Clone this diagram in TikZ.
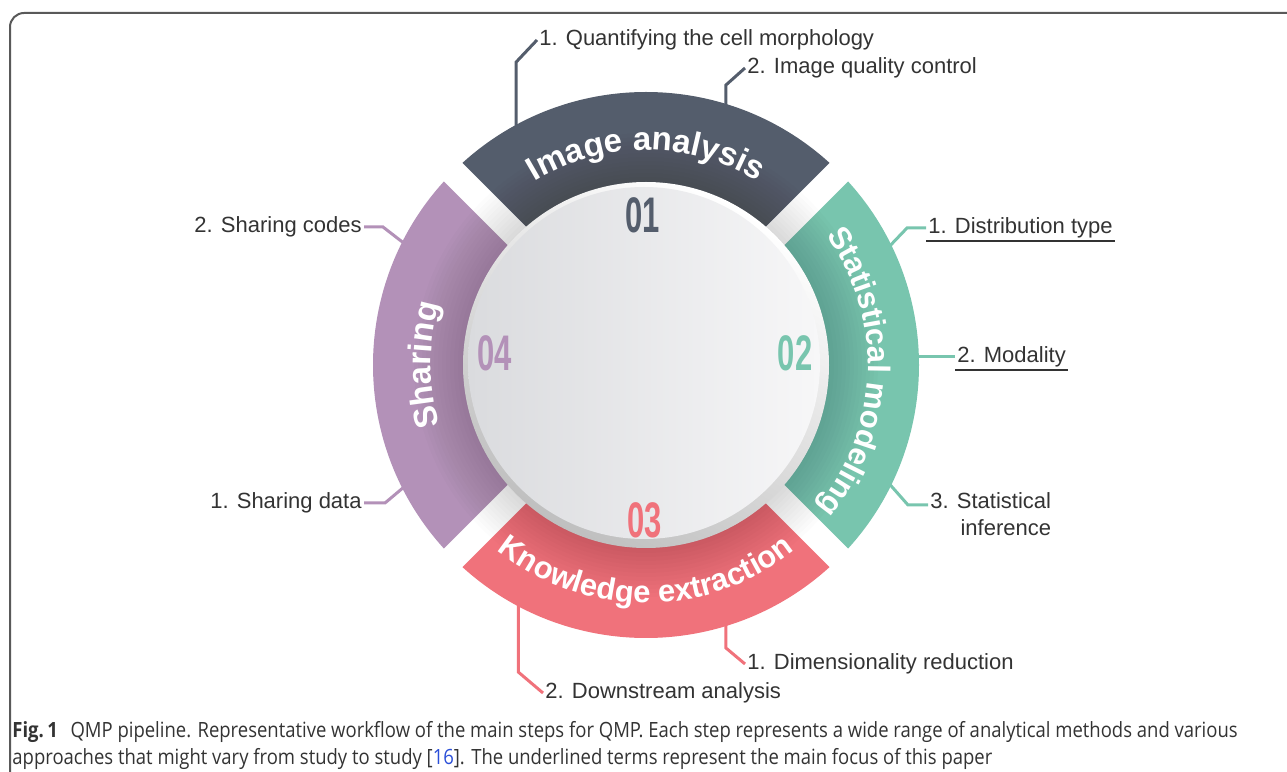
\documentclass[tikz,border=0pt]{standalone}
\usepackage{fontspec}
\setmainfont{Liberation Sans}
\newfontfamily\numfont[FakeStretch=0.62]{Liberation Sans}
\newfontfamily\capfont[FakeStretch=0.88]{Open Sans}
\usetikzlibrary{calc,decorations.text}

\definecolor{slate}{HTML}{545D6C}
\definecolor{mint}{HTML}{78C5AE}
\definecolor{coral}{HTML}{F0727B}
\definecolor{lilac}{HTML}{B391B8}
\definecolor{ink}{HTML}{333333}
\definecolor{discdark}{HTML}{DADBDE}
\definecolor{disclight}{HTML}{F7F7F8}
\definecolor{citeblue}{HTML}{2B4FD8}
\newcommand{\bandfont}[1]{\fontsize{#1}{#1}\selectfont\bfseries\color{white}}

\begin{document}
\begin{tikzpicture}[x=0.5pt, y=0.5pt,
			callout/.style={font=\fontsize{11}{13.5}\selectfont, text=ink, inner sep=1pt},
			leader/.style={line width=1.5pt, #1},
			num/.style={font=\numfont\bfseries\fontsize{25}{25}\selectfont, text=#1},
			bandtext/.style 2 args={decorate, decoration={text along path, text align=center, text={|\bandfont{#1}|#2}}},
			underline/.style={ink, line width=1pt}
			]
			
			\useasboundingbox (0,0) rectangle (1287,772);
			\draw[black!65, line width=1pt, rounded corners=7pt] (10,-10) -- (10,759) -- (1300,759);
			
			\coordinate (C) at (646,407);
			
			% steps around the wheel
			\node[callout, anchor=west] (qc) at (537,732) {1. Quantifying the cell morphology};
			\node[callout, anchor=west] (iq) at (745,704) {2. Image quality control};
			\node[callout, anchor=west] (dt) at (926,544) {1. Distribution type};
			\node[callout, anchor=west] (md) at (955,415) {2. Modality};
			\node[callout, anchor=north west, align=right] (si) at (928,282) {3. Statistical\\inference};
			\node[callout, anchor=east] (sc) at (364,545) {2. Sharing codes};
			\node[callout, anchor=east] (sd) at (364,269) {1. Sharing data};
			\node[callout, anchor=west] (dr) at (745,108) {1. Dimensionality reduction};
			\node[callout, anchor=west] (da) at (543,79) {2. Downstream analysis};
			
			\draw[underline] (dt.south west) -- (dt.south east);
			\draw[underline] (md.south west) -- (md.south east);
			
			\coordinate (ia1) at ($(C)+(119.2:266)$);
			\coordinate (ia2) at ($(C)+(72.5:266)$);
			\coordinate (sm1) at ($(C)+(25.6:266)$);
			\coordinate (sm2) at ($(C)+(1.7:266)$);
			\coordinate (sm3) at ($(C)+(-25.6:266)$);
			\coordinate (ke1) at ($(C)+(-72.5:266)$);
			\coordinate (ke2) at ($(C)+(-118.7:266)$);
			\coordinate (sh1) at ($(C)+(206.5:266)$);
			\coordinate (sh2) at ($(C)+(153.5:266)$);
			
			\draw[leader=slate] (ia1) -- (ia1 |- 0,710) -- (qc.west);
			\draw[leader=slate] (ia2) -- (ia2 |- 0,687) -- (iq.west);
			\draw[leader=mint] (sm1) -- (907,544) -- (dt.west);
			\draw[leader=mint] (sm2 |- md.west) -- (md.west);
			\draw[leader=mint] (sm3) -- (908,267) -- (si.west |- 0,267);
			\draw[leader=coral] (ke1) -- (ke1 |- 0,124) -- (dr.west);
			\draw[leader=coral] (ke2) -- (ke2 |- 0,100) -- (da.west);
			\draw[leader=lilac] (sh1) -- (385,269) -- (sd.east);
			\draw[leader=lilac] (sh2) -- (383,545) -- (sc.east);
			
			% ring
			\foreach \a/\col in {90/slate, 0/mint, -90/coral, 180/lilac}
				\fill[\col] ($(C)+(\a-45:140)$) arc[start angle=\a-45, end angle=\a+45, radius=140]
					-- ($(C)+(\a+45:273)$) arc[start angle=\a+45, end angle=\a-45, radius=273] -- cycle;
			\foreach \r in {45,-45}
				\fill[white, rotate around={\r:(C)}] ($(C)+(-290,-13)$) rectangle ($(C)+(290,13)$);
			\foreach \r in {184,188,...,232}
				\fill[black, opacity=0.012] (C) circle (\r);
			
			% disc
			\shade[left color=white, right color=black!25, shading angle=-30] (C) circle (183);
			\shade[left color=discdark, right color=disclight] ($(C)+(-2,2)$) circle (176);
			
			\path[bandtext={16.5}{Image analysis}] ($(C)+(134:215)$) arc[start angle=134, end angle=46, radius=215];
			\path[bandtext={15.5}{Statistical modeling}] ($(C)+(63:222)$) arc[start angle=63, end angle=-67, radius=222];
			\path[bandtext={15.5}{Knowledge extraction}] ($(C)+(222:238)$) arc[start angle=222, end angle=318, radius=238];
			\path[bandtext={16.5}{Sharing}] ($(C)+(225:215)$) arc[start angle=225, end angle=135, radius=215];
			
			\node[num=slate] (n1) at (643,557) {01};
			\node[num=mint] (n2) at (795,419) {02};
			\node[num=coral] (n3) at (645,252) {03};
			\node[num=lilac] (n4) at (495,419) {04};
			
			\node[anchor=north west, align=left, inner sep=0pt, text=ink,
				font=\capfont\fontsize{10.5}{13.5}\selectfont] (cap) at (12,51)
				{\textbf{Fig.\,1}\hspace{0.6em}QMP pipeline. Representative workflow of the main steps for QMP. Each step represents a wide range of analytical methods and various\\
				approaches that might vary from study to study [{\color{citeblue}16}]. The underlined terms represent the main focus of this paper};
		\end{tikzpicture}
\end{document}
